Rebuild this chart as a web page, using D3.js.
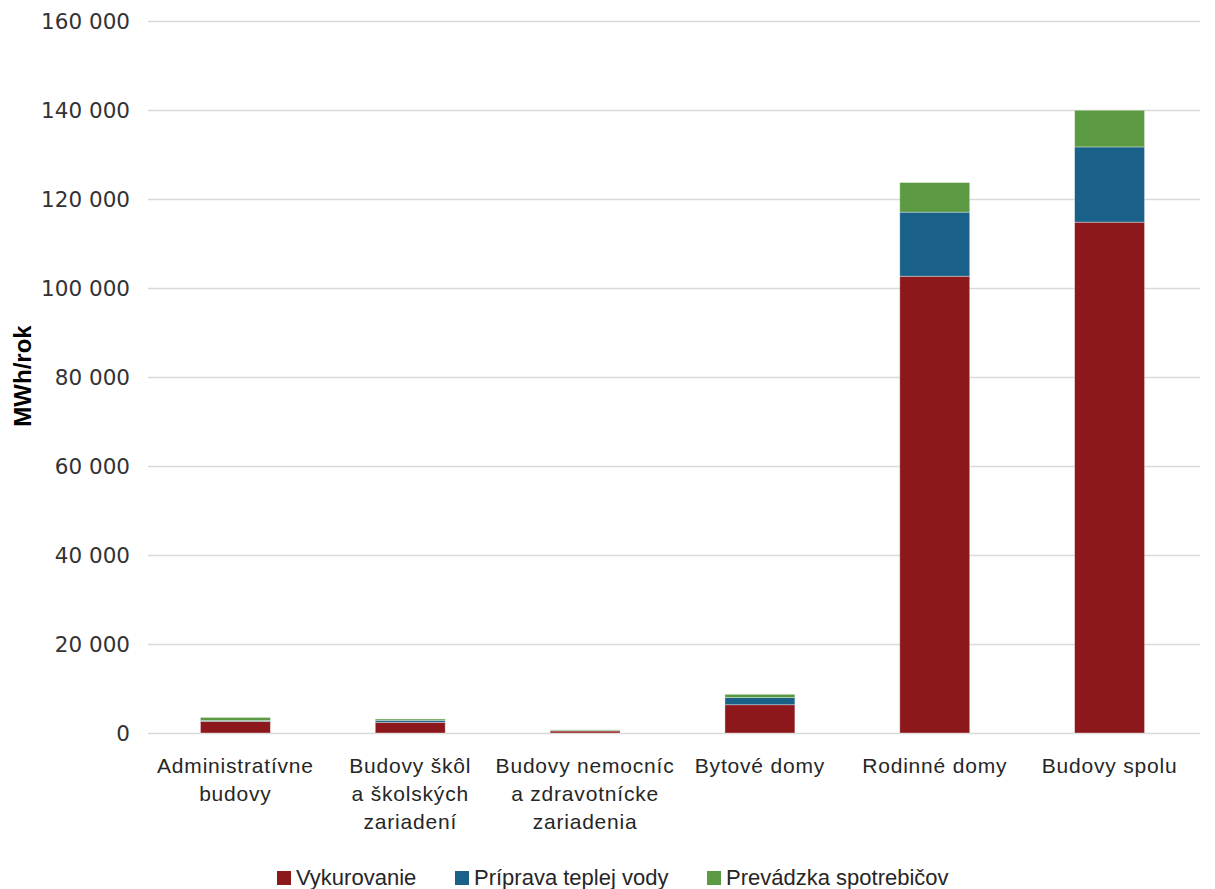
<!DOCTYPE html>
<html>
<head>
<meta charset="utf-8">
<script src="https://cdn.jsdelivr.net/npm/d3@7"></script>
<style>
  html, body { margin: 0; padding: 0; background: #fff; }
  svg { display: block; }
</style>
</head>
<body>
<svg id="chart" width="1215" height="889"></svg>
<script>
// Building categories (multi-line labels)
const categories = [
  ["Administratívne", "budovy"],
  ["Budovy škôl", "a školských", "zariadení"],
  ["Budovy nemocníc", "a zdravotnícke", "zariadenia"],
  ["Bytové domy"],
  ["Rodinné domy"],
  ["Budovy spolu"]
];

// Energy demand per use, MWh/rok
const vykurovanie = [2600, 2400, 450, 6350, 102650, 114800];
const pripravaTeplejVody = [200, 450, 100, 1600, 14400, 16900];
const prevadzkaSpotrebicov = [700, 300, 150, 750, 6650, 8250];

const seriesNames = ["Vykurovanie", "Príprava teplej vody", "Prevádzka spotrebičov"];
const seriesColors = ["#8d181b", "#1a6189", "#5b9a43"];

const yTicks = [0, 20000, 40000, 60000, 80000, 100000, 120000, 140000, 160000];

const svg = d3.select("#chart");
const margin = { left: 148, right: 1197, top: 21, bottom: 733 };

const rows = categories.map((c, i) => ({
  key: i,
  Vykurovanie: vykurovanie[i],
  "Príprava teplej vody": pripravaTeplejVody[i],
  "Prevádzka spotrebičov": prevadzkaSpotrebicov[i]
}));

const x = d3.scaleBand()
  .domain(d3.range(categories.length))
  .range([margin.left, margin.right])
  .paddingInner(0.6)
  .paddingOuter(0.3);

const y = d3.scaleLinear()
  .domain([0, 160000])
  .range([margin.bottom, margin.top]);

const fmt = v => d3.format(",")(v).replace(/,/g, " ");

// Horizontal gridlines
svg.append("g")
  .selectAll("line")
  .data(yTicks)
  .join("line")
  .attr("x1", margin.left)
  .attr("x2", margin.right + 3)
  .attr("y1", d => Math.round(y(d)) + 0.5)
  .attr("y2", d => Math.round(y(d)) + 0.5)
  .attr("stroke", "#d9d9d9")
  .attr("stroke-width", 1.3);

// Y tick labels
svg.append("g")
  .selectAll("text")
  .data(yTicks)
  .join("text")
  .attr("x", 130)
  .attr("y", d => y(d))
  .attr("dy", "0.36em")
  .attr("text-anchor", "end")
  .attr("font-family", "'DejaVu Sans', sans-serif")
  .attr("font-size", 21.5)
  .attr("fill", "#333")
  .text(d => fmt(d));

// Y axis title
svg.append("text")
  .attr("transform", "translate(31,376) rotate(-90)")
  .attr("text-anchor", "middle")
  .attr("font-family", "'Liberation Sans Narrow', 'Arial Narrow', 'Liberation Sans', sans-serif")
  .attr("font-stretch", "condensed")
  .attr("font-weight", "bold")
  .attr("font-size", 24)
  .attr("fill", "#000")
  .text("MWh/rok");

// Stacked bars
const stack = d3.stack().keys(seriesNames);
const stacked = stack(rows);

svg.append("g")
  .selectAll("g")
  .data(stacked)
  .join("g")
  .attr("fill", (d, i) => seriesColors[i])
  .selectAll("rect")
  .data(d => d)
  .join("rect")
  .attr("x", d => x(d.data.key))
  .attr("width", x.bandwidth())
  .attr("y", d => y(d[1]))
  .attr("height", d => Math.max(0, y(d[0]) - y(d[1])))
  .attr("stroke", "rgba(255,255,255,0.45)")
  .attr("stroke-width", 0.8);

// Category labels
const catG = svg.append("g")
  .attr("font-family", "'Liberation Sans', Arial, sans-serif")
  .attr("font-size", 21)
  .attr("letter-spacing", 0.8)
  .attr("fill", "#262626")
  .attr("text-anchor", "middle");

categories.forEach((lines, i) => {
  const t = catG.append("text")
    .attr("x", x(i) + x.bandwidth() / 2)
    .attr("y", 773);
  lines.forEach((line, j) => {
    t.append("tspan")
      .attr("x", x(i) + x.bandwidth() / 2)
      .attr("dy", j === 0 ? 0 : 28)
      .text(line);
  });
});

// Legend
const legendX = [277, 455, 707];
const legend = svg.append("g")
  .attr("font-family", "'Liberation Sans Narrow', 'Arial Narrow', 'Liberation Sans', sans-serif")
  .attr("font-stretch", "condensed")
  .attr("font-size", 22)
  .attr("fill", "#262626");

seriesNames.forEach((name, i) => {
  legend.append("rect")
    .attr("x", legendX[i])
    .attr("y", 871)
    .attr("width", 14)
    .attr("height", 14)
    .attr("fill", seriesColors[i]);
  legend.append("text")
    .attr("x", legendX[i] + 19)
    .attr("y", 885)
    .text(name);
});
</script>
</body>
</html>
